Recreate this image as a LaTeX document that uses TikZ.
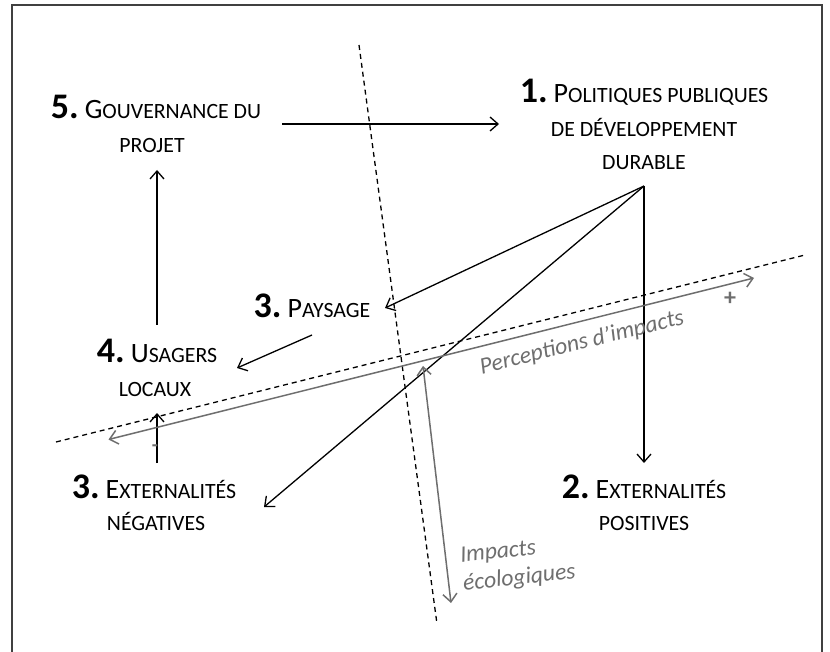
\documentclass[tikz,border=0pt]{standalone}
\usepackage{fontspec}
\setmainfont{Carlito}
\usetikzlibrary{arrows.meta,positioning}

\definecolor{impgray}{HTML}{6E6E6E}
\newcommand{\numlab}[1]{{\fontsize{18}{20}\selectfont\bfseries #1}}
\newcommand{\smcap}[2]{{\fontsize{14}{16}\selectfont #1}{\fontsize{10.9}{14}\selectfont #2}}
\newcommand{\smrest}[1]{{\fontsize{10.9}{14}\selectfont #1}}

\tikzset{
  lab/.style={anchor=base,inner sep=0pt},
  flow/.style={line width=0.65pt,-{Straight Barb[length=4pt,width=7pt]}},
  axe/.style={line width=0.65pt,dash pattern=on 2.5pt off 2pt},
  percu/.style={impgray,line width=0.75pt,{Straight Barb[length=4pt,width=7pt]}-{Straight Barb[length=4pt,width=7pt]}},
  graytxt/.style={impgray,font=\fontsize{11.8}{14}\selectfont\itshape,inner sep=0pt}
}

\begin{document}
\begin{tikzpicture}[x=0.5pt,y=-0.5pt]
\useasboundingbox (0,0) rectangle (830,652);
% cadre
\draw[black!75,line width=1pt] (11.5,652) -- (11.5,5.5) -- (822,5.5) -- (822,652);

% axes en pointilles
\draw[axe] (359,45) -- (437,624);
\draw[axe] (56,442) -- (805,255);

% textes
\node[lab] (pol) at (644,103) {\numlab{1.} \smcap{P}{OLITIQUES PUBLIQUES}};
\node[lab] (pol2) at (644,137) {\smrest{DE DÉVELOPPEMENT}};
\node[lab] (pol3) at (644,170) {\smrest{DURABLE}};
\node[lab] (gov) at (156,119) {\numlab{5.} \smcap{G}{OUVERNANCE DU}};
\node[lab] (gov2) at (152,153) {\smrest{PROJET}};
\node[lab] (pay) at (312,318) {\numlab{3.} \smcap{P}{AYSAGE}};
\node[lab] (usa) at (157,363) {\numlab{4.} \smcap{U}{SAGERS}};
\node[lab] (usa2) at (155,396) {\smrest{LOCAUX}};
\node[lab] (neg) at (154,498) {\numlab{3.} \smcap{E}{XTERNALITÉS}};
\node[lab] (neg2) at (156,530) {\smrest{NÉGATIVES}};
\node[lab] (pos) at (644,498) {\numlab{2.} \smcap{E}{XTERNALITÉS}};
\node[lab] (pos2) at (644,530) {\smrest{POSITIVES}};

% extremites des fleches
\coordinate (govOut) at (282,124);
\coordinate (polIn) at (499,124);
\coordinate (polOut) at (644,186);
\coordinate (posIn) at (644,463);
\coordinate (payIn) at (385,308);
\coordinate (negIn) at (264,507);
\coordinate (payOut) at (312,335);
\coordinate (usaIn) at (237,368);
\coordinate (usaOut) at (157,325);
\coordinate (govIn) at (157,170);
\coordinate (negOut) at (157,463);
\coordinate (usaBas) at (157,413);

\draw[flow] (govOut) -- (polIn);
\draw[flow] (polOut) -- (posIn);
\draw[flow] (polOut) -- (payIn);
\draw[flow] (polOut) -- (negIn);
\draw[flow] (payOut) -- (usaIn);
\draw[flow] (usaOut) -- (govIn);
\draw[flow] (negOut) -- (usaBas);

% perceptions et impacts
\coordinate (percMoins) at (108.5,439.5);
\coordinate (percPlus) at (754,278);
\coordinate (ecoHaut) at (423,366);
\coordinate (ecoBas) at (451,603);
\draw[percu] (percMoins) -- (percPlus);
\draw[percu] (ecoHaut) -- (ecoBas);

\node[graytxt,rotate=14] (perc) at (582,343) {Perceptions d’impacts};
\node[graytxt,rotate=6,align=left] (eco) at (518,565) {Impacts\\écologiques};
\node[impgray,font=\bfseries\large,inner sep=0pt] (plus) at (730,299) {+};
\node[impgray,font=\bfseries,inner sep=0pt] (moins) at (155,448) {-};
\end{tikzpicture}
\end{document}
